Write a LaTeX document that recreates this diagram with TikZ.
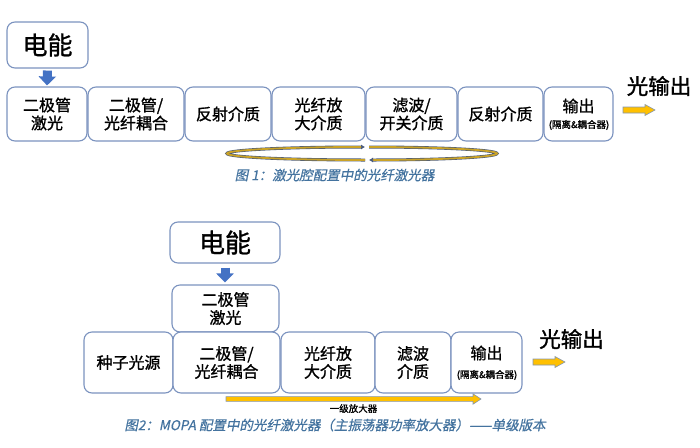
\documentclass[tikz,border=0pt]{standalone}
\usepackage{fontspec}
\setmainfont[FakeBold=1.2]{Noto Sans CJK SC}
\newfontfamily\capfont[FakeSlant=0.2,FakeBold=0.6]{Noto Sans CJK SC}
\usetikzlibrary{arrows.meta}
\definecolor{boxline}{HTML}{7B93BF}
\definecolor{blueA}{HTML}{4472C4}
\definecolor{goldA}{HTML}{FFC000}
\definecolor{goldB}{HTML}{C9A227}
\definecolor{slateA}{HTML}{4A5A7A}
\definecolor{capblue}{HTML}{44739F}
\definecolor{arrowline}{HTML}{8496B0}
\tikzset{
  box/.style={draw=boxline, line width=1.1pt, rounded corners=8pt, fill=white,
    align=center, inner sep=0pt, font=\fontsize{16}{18}\selectfont},
  outtxt/.style={font=\fontsize{21.5}{24}\selectfont, inner sep=0pt},
  captxt/.style={font=\capfont\fontsize{13.5}{16}\selectfont, text=capblue, inner sep=0pt},
  bluearrow/.style={draw=blueA, line width=9pt, -{Triangle[length=9pt,width=17pt]}},
  loopline/.style={draw=slateA, line width=0.6pt, double=goldB, double distance=1.8pt,
    -{Latex[length=4pt,width=5pt]}},
  goldarrow/.style={fill=goldA, draw=arrowline, line width=0.6pt, line join=miter},
}
\newcommand{\goldblk}[6]{% x1 x2 y halfshaft headlen halfhead
  \path[goldarrow] (#1,#3-#4) -- (#2-#5,#3-#4) -- (#2-#5,#3-#6) -- (#2,#3)
    -- (#2-#5,#3+#6) -- (#2-#5,#3+#4) -- (#1,#3+#4) -- cycle;}
\begin{document}
\begin{tikzpicture}[x=1pt,y=-1pt]
\useasboundingbox (0,0) rectangle (700,447);
% ---------------- Figure 1 ----------------
\node[box, minimum width=81pt, minimum height=46pt, font=\fontsize{25}{28}\selectfont] (e1) at (47.5,45) {电能};
\node[box, minimum width=80pt, minimum height=54pt] (b1) at (47,114) {二极管\\激光};
\node[box, minimum width=96pt, minimum height=54pt] (b2) at (136,114) {二极管/\\光纤耦合};
\node[box, minimum width=86pt, minimum height=54pt] (b3) at (228,114) {反射介质};
\node[box, minimum width=93pt, minimum height=54pt] (b4) at (318.5,114) {光纤放\\大介质};
\node[box, minimum width=91pt, minimum height=54pt] (b5) at (411.5,114) {滤波/\\开关介质};
\node[box, minimum width=85pt, minimum height=54pt] (b6) at (500.5,114) {反射介质};
\node[box, minimum width=69pt, minimum height=54pt] (b7) at (578.5,114) {};
\node[font=\fontsize{16}{18}\selectfont, inner sep=0pt] (b7a) at (578.5,106) {输出};
\node[font=\fontsize{9.5}{11}\selectfont, inner sep=0pt] (b7b) at (579,125) {(隔离\&耦合器)};
\draw[bluearrow, shorten <=2pt, shorten >=1pt] (e1.south) -- (b1.north);
\node[outtxt] (o1) at (659,86) {光输出};
\goldblk{623}{655}{110}{3}{10}{5.5}
% cavity loop
\coordinate (lt) at (365,147);
\coordinate (lb) at (365,160);
\coordinate (rt) at (369,147);
\coordinate (rb) at (369,160);
\draw[loopline] (lb) arc[start angle=270, end angle=90, x radius=138pt, y radius=6.5pt];
\draw[loopline] (rt) arc[start angle=90, end angle=-90, x radius=128pt, y radius=6.5pt];
\node[captxt] (c1) at (334.5,175) {图 1：激光腔配置中的光纤激光器};
% ---------------- Figure 2 ----------------
\node[box, minimum width=110pt, minimum height=41pt, font=\fontsize{26}{28}\selectfont] (e2) at (225,242.5) {电能};
\node[box, minimum width=107pt, minimum height=47pt] (d2) at (225.5,308.5) {二极管\\激光};
\node[box, minimum width=89pt, minimum height=61pt] (s1) at (128.5,362.5) {种子光源};
\node[box, minimum width=107pt, minimum height=61pt] (s2) at (226.5,362.5) {二极管/\\光纤耦合};
\node[box, minimum width=94pt, minimum height=61pt] (s3) at (328,362.5) {光纤放\\大介质};
\node[box, minimum width=76pt, minimum height=61pt] (s4) at (413,362.5) {滤波\\介质};
\node[box, minimum width=71pt, minimum height=61pt] (s5) at (486.5,362.5) {};
\node[font=\fontsize{16}{18}\selectfont, inner sep=0pt] (s5a) at (486.5,353) {输出};
\node[font=\fontsize{9.5}{11}\selectfont, inner sep=0pt] (s5b) at (487,375) {(隔离\&耦合器)};
\draw[bluearrow, shorten <=4pt, shorten >=2pt] (e2.south) -- (e2.south |- d2.north);
\node[outtxt] (o2) at (571.5,339) {光输出};
\goldblk{533}{565}{362}{3}{10}{5.5}
\goldblk{226}{481}{399}{2.4}{8}{5.2}
\node[font=\fontsize{9.5}{11}\selectfont, inner sep=0pt] (amp) at (353.5,408.5) {一级放大器};
\node[captxt] (c2) at (335,425) {图2：MOPA 配置中的光纤激光器（主振荡器功率放大器）——单级版本};
\end{tikzpicture}
\end{document}
